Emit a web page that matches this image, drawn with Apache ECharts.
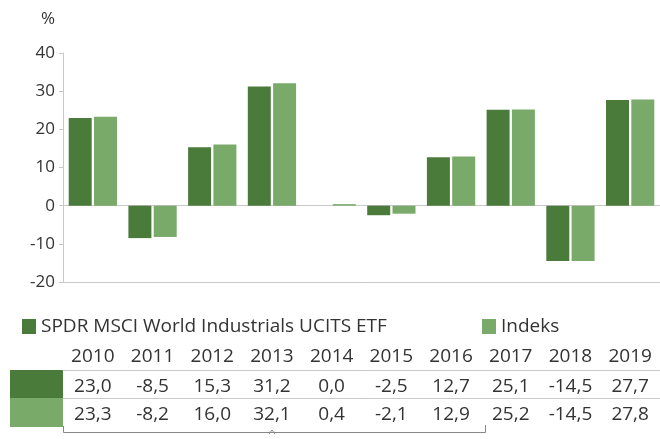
<!DOCTYPE html>
<html><head><meta charset="utf-8">
<script src="https://cdn.jsdelivr.net/npm/echarts@6/dist/echarts.min.js"></script>
<style>html,body{margin:0;padding:0;background:#fff}#c{width:660px;height:439px}</style>
</head><body><div id="c"></div>
<script>
const years = ['2010','2011','2012','2013','2014','2015','2016','2017','2018','2019'];
const fundName = 'SPDR MSCI World Industrials UCITS ETF';
const indexName = 'Indeks';
const fundValues = [23.0, -8.5, 15.3, 31.2, 0.0, -2.5, 12.7, 25.1, -14.5, 27.7];
const indexValues = [23.3, -8.2, 16.0, 32.1, 0.4, -2.1, 12.9, 25.2, -14.5, 27.8];
const yTicks = [-20, -10, 0, 10, 20, 30, 40];

const DARK = '#4B7B3B', LIGHT = '#7AAA6A', AX = '#C8C8C8', TXT = '#333333';
const FONT = 'Open Sans';
const fmt = v => v.toFixed(1).replace('.', ',');

const chart = echarts.init(document.getElementById('c'), null, {renderer: 'canvas'});
const tableAxis = (data, offset, margin, lineShow) => ({
  type: 'category', data: data, position: 'bottom', offset: offset,
  axisLine: {show: lineShow, onZero: false, lineStyle: {color: AX, width: 1}},
  axisTick: {show: false}, splitLine: {show: false},
  axisLabel: {show: true, margin: margin, color: TXT, fontFamily: FONT, fontSize: 19, interval: 0}
});
chart.setOption({
  animation: false,
  textStyle: {fontFamily: FONT},
  grid: {left: 63, right: 0, top: 53, bottom: 157, containLabel: false},
  legend: [
    {data: [fundName], left: 17, top: 312, icon: 'rect', itemWidth: 14, itemHeight: 15, itemGap: 10,
     textStyle: {color: TXT, fontFamily: FONT, fontSize: 19}},
    {data: [indexName], left: 477, top: 312, icon: 'rect', itemWidth: 14, itemHeight: 15,
     textStyle: {color: TXT, fontFamily: FONT, fontSize: 19}}
  ],
  xAxis: [
    {type: 'category', data: years,
     axisLine: {show: true, onZero: true, lineStyle: {color: AX}},
     axisTick: {show: false}, axisLabel: {show: false}},
    tableAxis(years, 0, 65, true),
    tableAxis(fundValues.map(fmt), 88, 7, true),
    tableAxis(indexValues.map(fmt), 116, 7, true)
  ],
  yAxis: {
    type: 'value', min: yTicks[0], max: yTicks[yTicks.length - 1], interval: 10,
    name: '%', nameLocation: 'end', nameGap: 25,
    nameTextStyle: {color: TXT, fontFamily: FONT, fontSize: 17, align: 'right', padding: [0, 8, 0, 0]},
    axisLine: {show: true, lineStyle: {color: AX}},
    axisTick: {show: true, length: 4, lineStyle: {color: AX}},
    splitLine: {show: false},
    axisLabel: {color: TXT, fontFamily: FONT, fontSize: 17, margin: 8}
  },
  series: [
    {name: fundName, type: 'bar', data: fundValues, itemStyle: {color: DARK},
     barWidth: 23, barGap: '10%'},
    {name: indexName, type: 'bar', data: indexValues, itemStyle: {color: LIGHT},
     barWidth: 23, barGap: '10%'}
  ],
  graphic: [
    {type: 'rect', shape: {x: 10, y: 370, width: 53, height: 28}, style: {fill: DARK}},
    {type: 'rect', shape: {x: 10, y: 398, width: 53, height: 29}, style: {fill: LIGHT}},
    {type: 'polyline', shape: {points: [[63.5, 426], [63.5, 432.5], [485.5, 432.5], [485.5, 425]]},
     style: {stroke: '#888', lineWidth: 1, fill: null}},
    {type: 'polyline', shape: {points: [[269, 434], [272, 430], [275, 434]]},
     style: {stroke: '#888', lineWidth: 1, fill: null}}
  ]
});
</script></body></html>
